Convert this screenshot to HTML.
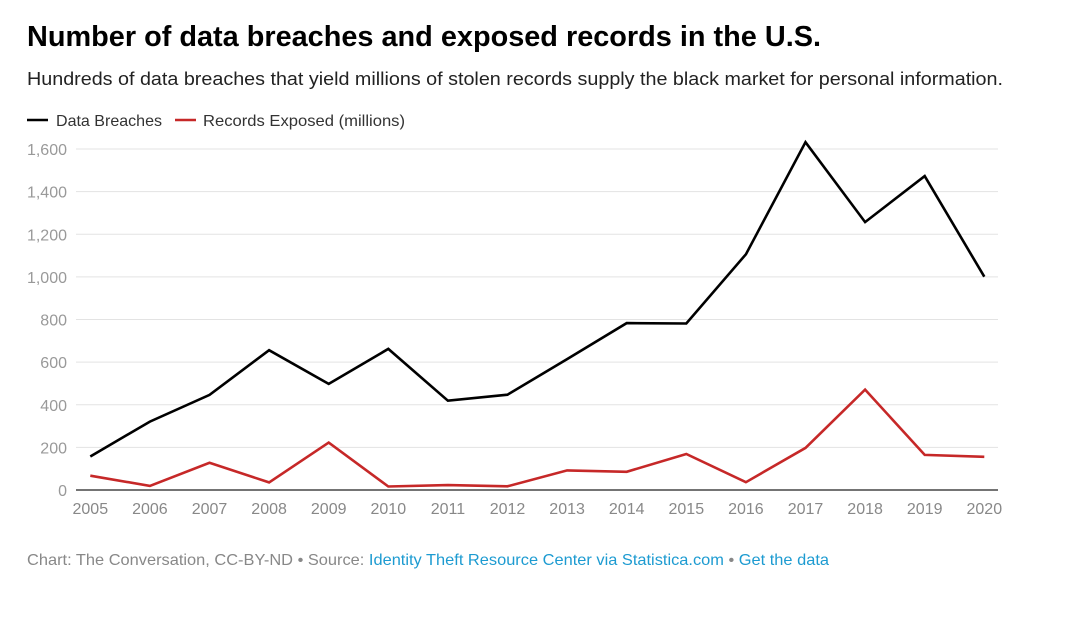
<!DOCTYPE html>
<html><head><meta charset="utf-8"><style>
html,body{margin:0;padding:0;background:#fff;}
svg{display:block;font-family:"Liberation Sans",Arial,sans-serif;}
</style></head><body>
<svg width="1080" height="618" viewBox="0 0 1080 618" xmlns="http://www.w3.org/2000/svg">
<rect width="1080" height="618" fill="#fff"/>
<text x="27" y="46" font-size="29" font-weight="bold" fill="#000" textLength="794" lengthAdjust="spacingAndGlyphs">Number of data breaches and exposed records in the U.S.</text>
<text x="27" y="85" font-size="18" fill="#222" textLength="976" lengthAdjust="spacingAndGlyphs">Hundreds of data breaches that yield millions of stolen records supply the black market for personal information.</text>
<line x1="27" y1="120" x2="48" y2="120" stroke="#000" stroke-width="2.5"/>
<text x="56" y="126" font-size="16" fill="#333" textLength="106" lengthAdjust="spacingAndGlyphs">Data Breaches</text>
<line x1="175" y1="120" x2="196" y2="120" stroke="#c62828" stroke-width="2.5"/>
<text x="203" y="126" font-size="16" fill="#333" textLength="202" lengthAdjust="spacingAndGlyphs">Records Exposed (millions)</text>
<g stroke="#e3e3e3" stroke-width="1">
<line x1="76" y1="149" x2="998" y2="149"/>
<line x1="76" y1="191.6" x2="998" y2="191.6"/>
<line x1="76" y1="234.3" x2="998" y2="234.3"/>
<line x1="76" y1="276.9" x2="998" y2="276.9"/>
<line x1="76" y1="319.5" x2="998" y2="319.5"/>
<line x1="76" y1="362.1" x2="998" y2="362.1"/>
<line x1="76" y1="404.8" x2="998" y2="404.8"/>
<line x1="76" y1="447.4" x2="998" y2="447.4"/>
</g>
<g font-size="16" fill="#999" text-anchor="end">
<text x="67" y="155">1,600</text>
<text x="67" y="197.6">1,400</text>
<text x="67" y="240.3">1,200</text>
<text x="67" y="282.9">1,000</text>
<text x="67" y="325.5">800</text>
<text x="67" y="368.1">600</text>
<text x="67" y="410.8">400</text>
<text x="67" y="453.4">200</text>
<text x="67" y="496">0</text>
</g>
<line x1="76" y1="490" x2="998" y2="490" stroke="#222" stroke-width="1.2"/>
<g font-size="16" fill="#888" text-anchor="middle">
<text x="90.3" y="514">2005</text>
<text x="149.9" y="514">2006</text>
<text x="209.5" y="514">2007</text>
<text x="269.1" y="514">2008</text>
<text x="328.7" y="514">2009</text>
<text x="388.3" y="514">2010</text>
<text x="447.9" y="514">2011</text>
<text x="507.5" y="514">2012</text>
<text x="567.1" y="514">2013</text>
<text x="626.7" y="514">2014</text>
<text x="686.3" y="514">2015</text>
<text x="745.9" y="514">2016</text>
<text x="805.5" y="514">2017</text>
<text x="865.1" y="514">2018</text>
<text x="924.7" y="514">2019</text>
<text x="984.3" y="514">2020</text>
</g>
<polyline fill="none" stroke="#000" stroke-width="2.6" stroke-linejoin="miter" points="90.3,456.5 149.9,421.6 209.5,394.9 269.1,350.2 328.7,383.9 388.3,348.9 447.9,400.7 507.5,394.7 567.1,359.1 626.7,323.1 686.3,323.5 745.9,254.3 805.5,142.2 865.1,222.1 924.7,176.1 984.3,276.7"/>
<polyline fill="none" stroke="#c62828" stroke-width="2.6" stroke-linejoin="miter" points="90.3,475.7 149.9,485.9 209.5,462.8 269.1,482.4 328.7,442.6 388.3,486.5 447.9,485.1 507.5,486.3 567.1,470.4 626.7,471.8 686.3,454.0 745.9,482.2 805.5,447.9 865.1,389.6 924.7,454.9 984.3,456.8"/>
<text x="27" y="565" font-size="16" textLength="802" lengthAdjust="spacingAndGlyphs"><tspan fill="#888">Chart: The Conversation, CC-BY-ND • Source: </tspan><tspan fill="#1d9bd1">Identity Theft Resource Center via Statistica.com</tspan><tspan fill="#888"> • </tspan><tspan fill="#1d9bd1">Get the data</tspan></text>
</svg>
</body></html>
